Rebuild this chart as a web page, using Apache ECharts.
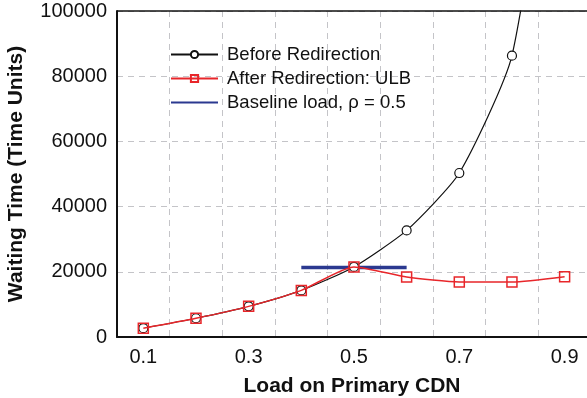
<!DOCTYPE html>
<html>
<head>
<meta charset="utf-8">
<script src="https://cdn.jsdelivr.net/npm/echarts@6/dist/echarts.min.js"></script>
<style>html,body{margin:0;padding:0;background:#fff;}#c{width:587px;height:398px;}</style>
</head>
<body>
<div id="c"></div>
<script>
const loads = [0.1, 0.2, 0.3, 0.4, 0.5, 0.6, 0.7, 0.8, 0.9];
const beforeRedirection = [2700, 5750, 9400, 14300, 21500, 32700, 50300, 86300, 190000];
const afterRedirection = [2700, 5750, 9400, 14300, 21500, 18400, 16900, 16900, 18500];
const baselineLoads = [0.4, 0.6];
const baselineValues = [21300, 21300];
const xTickLabels = [0.1, 0.3, 0.5, 0.7, 0.9];
const yTicks = [0, 20000, 40000, 60000, 80000, 100000];

const font = 'Liberation Sans, Arial, Helvetica, sans-serif';
const chart = echarts.init(document.getElementById('c'), null, {renderer: 'canvas'});
const pair = (xs, ys) => xs.map((x, i) => [x, ys[i]]);
const gridLine = {show: true, lineStyle: {color: '#c4c4c8', type: [6, 5], width: 1}};

chart.setOption({
  animation: false,
  backgroundColor: '#fff',
  grid: {left: 117, right: 0, top: 11, bottom: 61, containLabel: false, outerBoundsMode: 'none'},
  xAxis: [{
    type: 'value', min: 0.05, max: 0.9425,
    name: 'Load on Primary CDN', nameLocation: 'middle', nameGap: 39,
    nameTextStyle: {fontFamily: font, fontWeight: 'bold', fontSize: 21, color: '#111'},
    axisLine: {show: true, onZero: false, lineStyle: {color: '#111', width: 2}},
    axisTick: {show: false},
    axisLabel: {customValues: xTickLabels, fontFamily: font, fontSize: 20, color: '#111', margin: 10,
      formatter: v => String(v)},
    splitLine: {show: false}
  }, {
    type: 'value', min: 0, max: 0.8925, interval: 0.1,
    position: 'bottom', show: true,
    axisLine: {show: false}, axisTick: {show: false}, axisLabel: {show: false},
    splitLine: gridLine
  }],
  yAxis: [{
    type: 'value', min: 0, max: 100000, interval: 20000,
    name: 'Waiting Time (Time Units)', nameLocation: 'middle', nameGap: 90,
    nameTextStyle: {fontFamily: font, fontWeight: 'bold', fontSize: 21, color: '#111'},
    axisLine: {show: true, lineStyle: {color: '#111', width: 2}},
    axisTick: {show: false},
    axisLabel: {customValues: yTicks, fontFamily: font, fontSize: 20, color: '#111', margin: 10,
      verticalAlign: 'middle', formatter: v => String(v)},
    splitLine: gridLine
  }],
  graphic: [{
    type: 'line', silent: true, z: 100,
    shape: {x1: 117, y1: 11, x2: 587, y2: 11},
    style: {stroke: '#111', lineWidth: 1.5}
  }],
  legend: {
    left: 165, top: 40, orient: 'vertical', itemGap: 5,
    itemWidth: 47, itemHeight: 9,
    textStyle: {fontFamily: font, fontSize: 18.5, color: '#111', padding: [0, 0, 0, 4]},
    data: [
      {name: 'Before Redirection'},
      {name: 'After Redirection: ULB'},
      {name: 'Baseline load, ρ = 0.5', itemStyle: {opacity: 0}}
    ]
  },
  series: [{
    name: 'Before Redirection', type: 'line',
    data: pair(loads, beforeRedirection), smooth: 0.2,
    symbol: 'circle', symbolSize: 9, showAllSymbol: true,
    itemStyle: {color: '#fff', borderColor: '#111', borderWidth: 1.2},
    lineStyle: {color: '#111', width: 1.2}, z: 3
  }, {
    name: 'After Redirection: ULB', type: 'line',
    data: pair(loads, afterRedirection), smooth: 0.2,
    symbol: 'rect', symbolSize: 10, showAllSymbol: true,
    itemStyle: {color: 'rgba(255,255,255,0)', borderColor: '#e8262a', borderWidth: 1.5},
    lineStyle: {color: '#e8262a', width: 1.5}, z: 4
  }, {
    name: 'Baseline load, ρ = 0.5', type: 'line',
    data: pair(baselineLoads, baselineValues),
    symbol: 'none', lineStyle: {color: '#2b3990', width: 3.5},
    itemStyle: {color: '#2b3990'}, z: 2
  }]
});
</script>
</body>
</html>
